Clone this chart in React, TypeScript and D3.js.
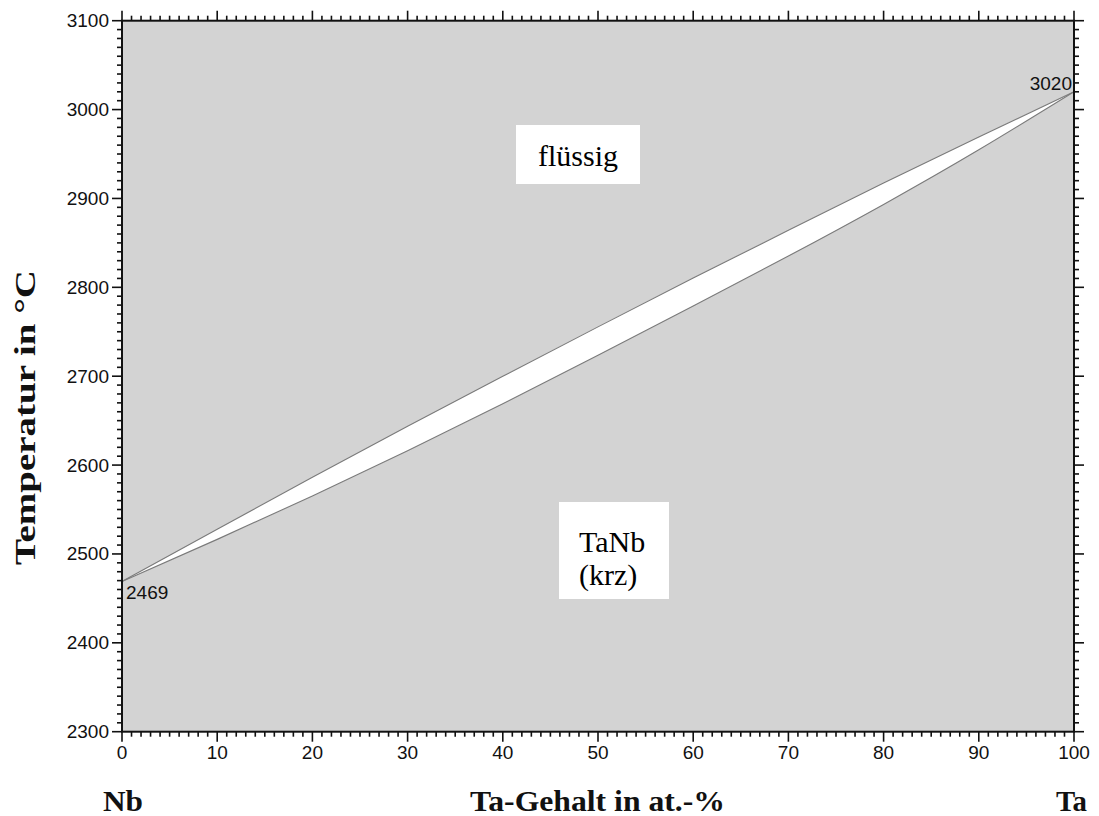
import React from "react";
import * as d3 from "d3";

// Nb–Ta binary phase diagram: composition in at.-% Ta, temperatures in °C
const composition = [0, 10, 20, 30, 40, 50, 60, 70, 80, 90, 100];
const liquidus = [2469, 2527.9, 2586.2, 2643.6, 2699.9, 2755.5, 2810.4, 2864.2, 2917.3, 2969.2, 3020];
const solidus = [2469, 2516.4, 2565.2, 2616.1, 2668.9, 2723.5, 2778.9, 2835.2, 2893.3, 2954.7, 3020];

const xMajorTicks = [0, 10, 20, 30, 40, 50, 60, 70, 80, 90, 100];
const yMajorTicks = [2300, 2400, 2500, 2600, 2700, 2800, 2900, 3000, 3100];

const meltNb = 2469;
const meltTa = 3020;

const W = 1099;
const H = 816;
const left = 122;
const right = 1074;
const top = 20.7;
const bottom = 731.7;

type Pt = { c: number; l: number; s: number };

export default function App() {
  const x = d3.scaleLinear().domain([0, 100]).range([left, right]);
  const y = d3.scaleLinear().domain([2300, 3100]).range([bottom, top]);

  const pts: Pt[] = composition.map((c, i) => ({ c, l: liquidus[i], s: solidus[i] }));
  const curve = d3.curveNatural;
  const area = d3
    .area<Pt>()
    .x((d) => x(d.c))
    .y0((d) => y(d.s))
    .y1((d) => y(d.l))
    .curve(curve);
  const liqLine = d3
    .line<Pt>()
    .x((d) => x(d.c))
    .y((d) => y(d.l))
    .curve(curve);
  const solLine = d3
    .line<Pt>()
    .x((d) => x(d.c))
    .y((d) => y(d.s))
    .curve(curve);

  const xMinor = d3.range(0, 101, 1).filter((v) => v % 10 !== 0);
  const yMinor = d3.range(2300, 3101, 10).filter((v) => v % 100 !== 0);

  const sans = "Liberation Sans, Arial, sans-serif";
  const serif = "Liberation Serif, Times New Roman, serif";
  const tickColor = "#111";

  return (
    <svg
      width={W}
      height={H}
      style={{ position: "absolute", left: 0, top: 0, background: "#fff" }}
    >
      <rect x={left} y={top} width={right - left} height={bottom - top} fill="#d3d3d3" />

      {/* two-phase region between liquidus and solidus */}
      <path d={area(pts) ?? ""} fill="#fff" />
      <path d={liqLine(pts) ?? ""} fill="none" stroke="#7a7a7a" strokeWidth={1.1} />
      <path d={solLine(pts) ?? ""} fill="none" stroke="#7a7a7a" strokeWidth={1.1} />

      {/* ticks on all four sides, pointing outward */}
      <g stroke={tickColor} strokeWidth={1.6}>
        {xMinor.map((v) => (
          <g key={"xm" + v}>
            <line x1={x(v)} x2={x(v)} y1={bottom} y2={bottom + 5} />
            <line x1={x(v)} x2={x(v)} y1={top} y2={top - 5} />
          </g>
        ))}
        {xMajorTicks.map((v) => (
          <g key={"xM" + v}>
            <line x1={x(v)} x2={x(v)} y1={bottom} y2={bottom + 10} />
            <line x1={x(v)} x2={x(v)} y1={top} y2={top - 10} />
          </g>
        ))}
        {yMinor.map((v) => (
          <g key={"ym" + v}>
            <line x1={left} x2={left - 5} y1={y(v)} y2={y(v)} />
            <line x1={right} x2={right + 5} y1={y(v)} y2={y(v)} />
          </g>
        ))}
        {yMajorTicks.map((v) => (
          <g key={"yM" + v}>
            <line x1={left} x2={left - 10} y1={y(v)} y2={y(v)} />
            <line x1={right} x2={right + 10} y1={y(v)} y2={y(v)} />
          </g>
        ))}
      </g>

      <rect
        x={left}
        y={top}
        width={right - left}
        height={bottom - top}
        fill="none"
        stroke={tickColor}
        strokeWidth={2}
      />

      {/* tick labels and melting points */}
      <g fontFamily={sans} fontSize={19} fill="#111">
        {xMajorTicks.map((v) => (
          <text key={"xl" + v} x={x(v)} y={bottom + 27} textAnchor="middle">
            {v}
          </text>
        ))}
        {yMajorTicks.map((v) => (
          <text key={"yl" + v} x={left - 13} y={y(v) + 6.5} textAnchor="end">
            {v}
          </text>
        ))}
        <text x={x(100) - 2} y={y(meltTa) - 2} textAnchor="end">
          {meltTa}
        </text>
        <text x={x(0) + 4} y={y(meltNb) + 17} textAnchor="start">
          {meltNb}
        </text>
      </g>

      {/* phase field labels */}
      <rect x={516} y={125} width={124} height={59} fill="#fff" />
      <text x={578} y={166} textAnchor="middle" fontFamily={serif} fontSize={30} fill="#000">
        flüssig
      </text>
      <rect x={559} y={502} width={110} height={97} fill="#fff" />
      <text x={579} y={552} fontFamily={serif} fontSize={30} fill="#000">
        TaNb
      </text>
      <text x={579} y={585} fontFamily={serif} fontSize={30} fill="#000">
        (krz)
      </text>

      {/* axis titles */}
      <g fontFamily={serif} fontWeight="bold" fontSize={29} fill="#111">
        <text x={103} y={811} textLength={40} lengthAdjust="spacingAndGlyphs">
          Nb
        </text>
        <text x={470} y={811} textLength={255} lengthAdjust="spacingAndGlyphs">
          Ta-Gehalt in at.-%
        </text>
        <text x={1056} y={811} textLength={31} lengthAdjust="spacingAndGlyphs">
          Ta
        </text>
        <text
          transform="translate(35,565) rotate(-90)"
          textLength={295}
          lengthAdjust="spacingAndGlyphs"
        >
          Temperatur in °C
        </text>
      </g>
    </svg>
  );
}
